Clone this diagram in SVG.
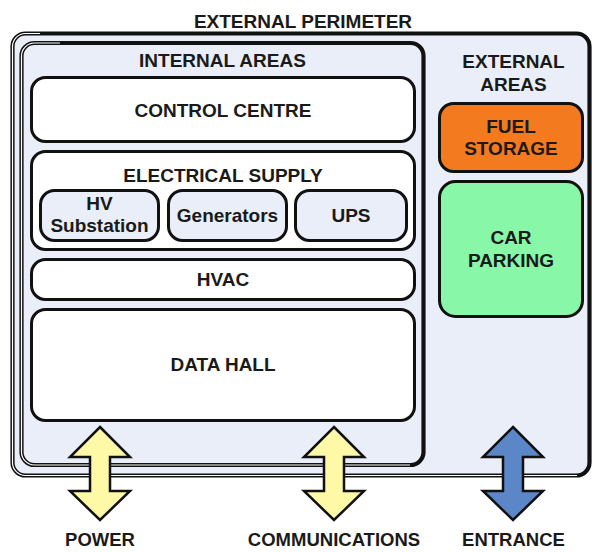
<svg xmlns="http://www.w3.org/2000/svg" width="592" height="552" viewBox="0 0 592 552">
  <style>
    text { font-family: "Liberation Sans", Arial, sans-serif; font-weight: bold; font-size: 19px; fill: #1a1a1a; text-anchor: middle; }
    .label { font-size: 18.5px; }
    .area { fill: #e9eef9; stroke: #111; stroke-width: 4.2; }
    .inner { fill: none; stroke: #fff; stroke-width: 1.2; }
    .box { fill: #ffffff; stroke: #111; stroke-width: 3; }
    .sub { fill: #e9eef9; stroke: #111; stroke-width: 3; }
    .fuel { fill: #f47a1f; stroke: #111; stroke-width: 3; }
    .park { fill: #88f7a8; stroke: #111; stroke-width: 3; }
    .arrow { stroke: #111; stroke-width: 2.5; stroke-linejoin: miter; }
  </style>
  <defs>
    <path id="dbl" d="M0 427 L30 457 L10 457 L10 491 L30 491 L0 520 L-30 491 L-10 491 L-10 457 L-30 457 Z"/>
  </defs>
  <rect width="592" height="552" fill="#ffffff"/>

  <g id="external-perimeter">
    <rect class="area" x="12.5" y="33.5" width="577" height="442" rx="13"/>
    <path class="inner" d="M40 33.5 L25.5 33.5 A13 13 0 0 0 12.5 46.5 L12.5 462.5 A13 13 0 0 0 25.5 475.5 L577 475.5"/>
    <text x="303" y="28">EXTERNAL PERIMETER</text>
  </g>

  <g id="internal-areas">
    <rect class="area" x="21.5" y="43" width="402" height="422" rx="13"/>
    <path class="inner" d="M60 43 L34.5 43 A13 13 0 0 0 21.5 56 L21.5 452 A13 13 0 0 0 34.5 465 L410 465"/>
    <text x="222.5" y="67">INTERNAL AREAS</text>
  </g>

  <g id="control-centre">
    <rect class="box" x="31.5" y="77.5" width="383" height="64" rx="14"/>
    <text x="223" y="117">CONTROL CENTRE</text>
  </g>

  <g id="electrical-supply">
    <rect class="box" x="31.5" y="151.5" width="383" height="98" rx="14"/>
    <text x="223" y="182">ELECTRICAL SUPPLY</text>
  </g>

  <g id="hv-substation">
    <rect class="sub" x="40.5" y="190.5" width="118" height="50" rx="14"/>
    <text x="99.5" y="210">HV</text>
    <text x="99.5" y="232">Substation</text>
  </g>

  <g id="generators">
    <rect class="sub" x="168.5" y="190.5" width="118" height="50" rx="14"/>
    <text x="227.5" y="222">Generators</text>
  </g>

  <g id="ups">
    <rect class="sub" x="295.5" y="190.5" width="111" height="50" rx="14"/>
    <text x="351" y="222">UPS</text>
  </g>

  <g id="hvac">
    <rect class="box" x="31.5" y="259.5" width="383" height="40" rx="14"/>
    <text x="223" y="286">HVAC</text>
  </g>

  <g id="data-hall">
    <rect class="box" x="31.5" y="309.5" width="383" height="111" rx="14"/>
    <text x="223" y="371">DATA HALL</text>
  </g>

  <g id="external-areas">
    <text x="513.5" y="68">EXTERNAL</text>
    <text x="513.5" y="91">AREAS</text>
  </g>

  <g id="fuel-storage">
    <rect class="fuel" x="439.5" y="103.5" width="143" height="68" rx="14"/>
    <text x="511" y="133">FUEL</text>
    <text x="511" y="155">STORAGE</text>
  </g>

  <g id="car-parking">
    <rect class="park" x="439.5" y="181.5" width="143" height="135" rx="16"/>
    <text x="511" y="244">CAR</text>
    <text x="511" y="267">PARKING</text>
  </g>

  <g id="connectors">
    <use href="#dbl" class="arrow" fill="#fdf9a6" transform="translate(100 0)"/>
    <use href="#dbl" class="arrow" fill="#fdf9a6" transform="translate(334 0)"/>
    <use href="#dbl" class="arrow" fill="#5b86c8" transform="translate(513 0)"/>
    <text class="label" x="100" y="546">POWER</text>
    <text class="label" x="334" y="546">COMMUNICATIONS</text>
    <text class="label" x="513.5" y="546">ENTRANCE</text>
  </g>
</svg>
